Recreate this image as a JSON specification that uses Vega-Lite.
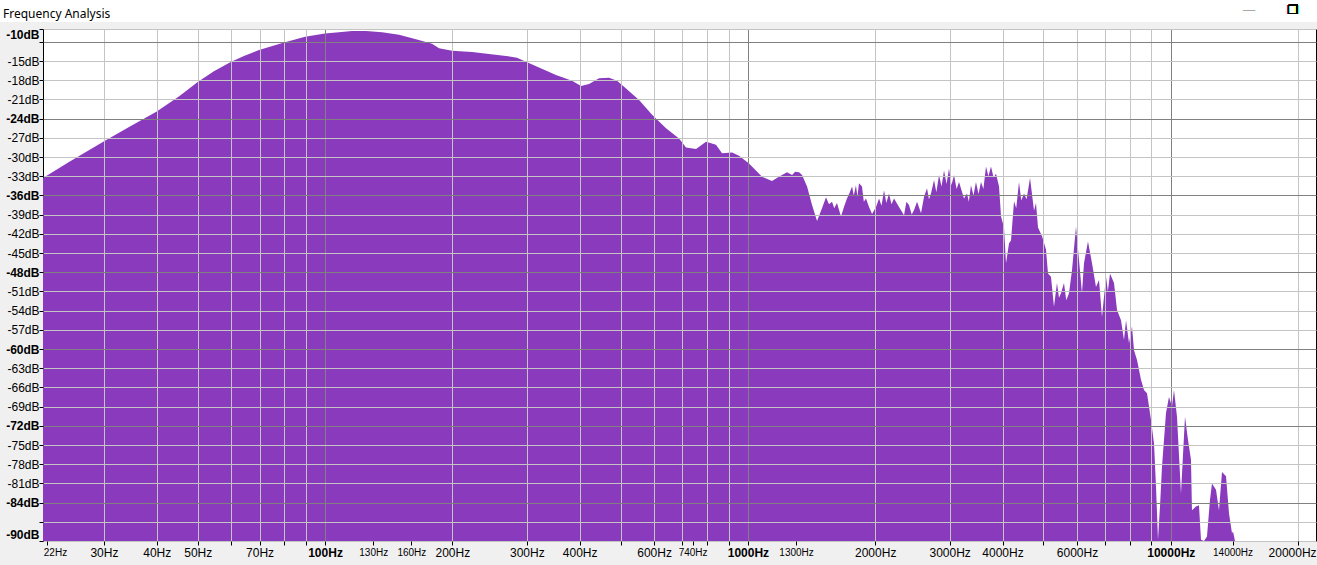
{
  "$schema": "https://vega.github.io/schema/vega-lite/v6.json",
  "description": "Audacity style frequency analysis spectrum, log frequency axis.",
  "width": 1273,
  "height": 512,
  "autosize": "none",
  "padding": {"left": 43, "top": 29, "right": 1, "bottom": 24},
  "background": "#f0f0f0",
  "title": {
    "text": "Frequency Analysis",
    "anchor": "start",
    "frame": "group",
    "dx": -40,
    "dy": 17,
    "offset": -13,
    "baseline": "alphabetic",
    "font": "Noto Sans",
    "fontSize": 12,
    "fontWeight": "normal",
    "color": "#000000"
  },
  "config": {
    "view": {"fill": "#ffffff", "stroke": "#000000", "strokeWidth": 1},
    "axis": {
      "labelFont": "Liberation Sans",
      "labelColor": "#000000",
      "tickColor": "#000000",
      "tickSize": 4,
      "domain": false,
      "title": null
    }
  },
  "data": {
    "values": [
      {"f": 21.53, "db": -33.3},
      {"f": 24.8, "db": -30.8},
      {"f": 30.1, "db": -27.5},
      {"f": 34.4, "db": -25.3},
      {"f": 40.0, "db": -22.9},
      {"f": 45.2, "db": -20.5},
      {"f": 50.0, "db": -18.3},
      {"f": 54.6, "db": -16.6},
      {"f": 60.0, "db": -15.1},
      {"f": 64.3, "db": -14.2},
      {"f": 69.8, "db": -13.3},
      {"f": 80.0, "db": -12.1},
      {"f": 89.7, "db": -11.2},
      {"f": 100, "db": -10.7},
      {"f": 107.9, "db": -10.5},
      {"f": 115.8, "db": -10.3},
      {"f": 125.0, "db": -10.3},
      {"f": 136.4, "db": -10.5},
      {"f": 149.6, "db": -10.9},
      {"f": 164.1, "db": -11.6},
      {"f": 179.1, "db": -12.3},
      {"f": 186.0, "db": -13.0},
      {"f": 199.7, "db": -13.4},
      {"f": 222.7, "db": -13.6},
      {"f": 244.3, "db": -13.9},
      {"f": 267.9, "db": -14.2},
      {"f": 284.4, "db": -14.5},
      {"f": 298.7, "db": -15.1},
      {"f": 320.6, "db": -16.0},
      {"f": 351.7, "db": -17.2},
      {"f": 383.7, "db": -18.1},
      {"f": 403.1, "db": -18.9},
      {"f": 421.1, "db": -18.6},
      {"f": 444.6, "db": -17.7},
      {"f": 469.4, "db": -17.6},
      {"f": 490.4, "db": -18.1},
      {"f": 515.0, "db": -19.3},
      {"f": 552.8, "db": -21.1},
      {"f": 593.4, "db": -23.4},
      {"f": 640.3, "db": -25.5},
      {"f": 687.3, "db": -27.1},
      {"f": 713.9, "db": -28.5},
      {"f": 753.9, "db": -28.75},
      {"f": 796.1, "db": -27.6},
      {"f": 840.5, "db": -28.1},
      {"f": 868.5, "db": -29.4},
      {"f": 917.3, "db": -29.3},
      {"f": 952.8, "db": -29.8},
      {"f": 1006, "db": -31.0},
      {"f": 1080, "db": -33.1},
      {"f": 1140, "db": -33.75},
      {"f": 1184, "db": -33.1},
      {"f": 1237, "db": -32.4},
      {"f": 1272, "db": -32.8},
      {"f": 1293, "db": -32.3},
      {"f": 1321, "db": -32.4},
      {"f": 1343, "db": -32.8},
      {"f": 1380, "db": -34.6},
      {"f": 1418, "db": -37.5},
      {"f": 1457, "db": -40.0},
      {"f": 1497, "db": -38.0},
      {"f": 1530, "db": -36.3},
      {"f": 1555, "db": -37.4},
      {"f": 1581, "db": -37.0},
      {"f": 1600, "db": -38.0},
      {"f": 1624, "db": -37.2},
      {"f": 1660, "db": -39.3},
      {"f": 1687, "db": -37.8},
      {"f": 1715, "db": -36.5},
      {"f": 1740, "db": -35.6},
      {"f": 1763, "db": -34.6},
      {"f": 1780, "db": -36.0},
      {"f": 1801, "db": -34.4},
      {"f": 1815, "db": -36.2},
      {"f": 1831, "db": -34.1},
      {"f": 1861, "db": -34.6},
      {"f": 1880, "db": -37.0},
      {"f": 1902, "db": -36.5},
      {"f": 1934, "db": -37.8},
      {"f": 1966, "db": -38.9},
      {"f": 2009, "db": -37.8},
      {"f": 2042, "db": -36.5},
      {"f": 2070, "db": -37.6},
      {"f": 2098, "db": -35.2},
      {"f": 2125, "db": -37.2},
      {"f": 2156, "db": -35.7},
      {"f": 2185, "db": -37.4},
      {"f": 2216, "db": -36.5},
      {"f": 2277, "db": -37.8},
      {"f": 2340, "db": -39.1},
      {"f": 2370, "db": -37.0},
      {"f": 2404, "db": -37.5},
      {"f": 2440, "db": -39.0},
      {"f": 2471, "db": -38.3},
      {"f": 2512, "db": -37.0},
      {"f": 2567, "db": -38.8},
      {"f": 2609, "db": -36.2},
      {"f": 2652, "db": -34.9},
      {"f": 2680, "db": -36.6},
      {"f": 2710, "db": -35.7},
      {"f": 2755, "db": -33.6},
      {"f": 2790, "db": -35.5},
      {"f": 2831, "db": -32.8},
      {"f": 2870, "db": -34.6},
      {"f": 2909, "db": -32.1},
      {"f": 2950, "db": -34.2},
      {"f": 2989, "db": -31.8},
      {"f": 3030, "db": -34.4},
      {"f": 3072, "db": -32.8},
      {"f": 3115, "db": -35.0},
      {"f": 3157, "db": -33.9},
      {"f": 3243, "db": -36.5},
      {"f": 3297, "db": -35.7},
      {"f": 3330, "db": -37.0},
      {"f": 3369, "db": -34.4},
      {"f": 3415, "db": -36.0},
      {"f": 3462, "db": -33.9},
      {"f": 3510, "db": -35.8},
      {"f": 3558, "db": -33.9},
      {"f": 3605, "db": -35.0},
      {"f": 3656, "db": -31.5},
      {"f": 3705, "db": -33.0},
      {"f": 3757, "db": -31.5},
      {"f": 3810, "db": -33.2},
      {"f": 3861, "db": -32.6},
      {"f": 3925, "db": -34.6},
      {"f": 3968, "db": -39.3},
      {"f": 4033, "db": -41.0},
      {"f": 4077, "db": -46.6},
      {"f": 4144, "db": -43.5},
      {"f": 4190, "db": -43.0},
      {"f": 4259, "db": -36.9},
      {"f": 4310, "db": -38.0},
      {"f": 4376, "db": -33.9},
      {"f": 4430, "db": -36.8},
      {"f": 4497, "db": -35.7},
      {"f": 4560, "db": -36.6},
      {"f": 4647, "db": -33.3},
      {"f": 4749, "db": -38.4},
      {"f": 4800, "db": -37.2},
      {"f": 4853, "db": -41.0},
      {"f": 4961, "db": -42.4},
      {"f": 5069, "db": -44.5},
      {"f": 5124, "db": -48.2},
      {"f": 5208, "db": -48.7},
      {"f": 5294, "db": -53.4},
      {"f": 5381, "db": -49.7},
      {"f": 5440, "db": -52.0},
      {"f": 5500, "db": -51.3},
      {"f": 5591, "db": -49.7},
      {"f": 5660, "db": -52.4},
      {"f": 5745, "db": -51.3},
      {"f": 5840, "db": -47.7},
      {"f": 5968, "db": -40.9},
      {"f": 6067, "db": -46.1},
      {"f": 6166, "db": -51.3},
      {"f": 6234, "db": -46.6},
      {"f": 6371, "db": -43.2},
      {"f": 6512, "db": -46.6},
      {"f": 6655, "db": -50.3},
      {"f": 6765, "db": -49.2},
      {"f": 6876, "db": -55.0},
      {"f": 7028, "db": -48.7},
      {"f": 7100, "db": -51.0},
      {"f": 7182, "db": -48.2},
      {"f": 7341, "db": -49.7},
      {"f": 7462, "db": -53.9},
      {"f": 7626, "db": -55.5},
      {"f": 7752, "db": -58.6},
      {"f": 7837, "db": -55.5},
      {"f": 7966, "db": -59.1},
      {"f": 8096, "db": -56.5},
      {"f": 8185, "db": -60.2},
      {"f": 8321, "db": -61.7},
      {"f": 8503, "db": -64.8},
      {"f": 8643, "db": -66.4},
      {"f": 8786, "db": -66.9},
      {"f": 8980, "db": -71.1},
      {"f": 9128, "db": -74.8},
      {"f": 9227, "db": -81.5},
      {"f": 9327, "db": -89.8},
      {"f": 9430, "db": -84.6},
      {"f": 9533, "db": -78.4},
      {"f": 9743, "db": -70.0},
      {"f": 9902, "db": -67.5},
      {"f": 10065, "db": -69.0},
      {"f": 10176, "db": -66.4},
      {"f": 10344, "db": -70.6},
      {"f": 10571, "db": -82.6},
      {"f": 10805, "db": -70.6},
      {"f": 10983, "db": -74.2},
      {"f": 11163, "db": -77.3},
      {"f": 11223, "db": -85.2},
      {"f": 11471, "db": -84.6},
      {"f": 11659, "db": -84.4},
      {"f": 11787, "db": -89.8},
      {"f": 11981, "db": -90},
      {"f": 12179, "db": -89.3},
      {"f": 12379, "db": -83.6},
      {"f": 12515, "db": -81.0},
      {"f": 12791, "db": -82.0},
      {"f": 13002, "db": -85.2},
      {"f": 13217, "db": -79.2},
      {"f": 13509, "db": -79.9},
      {"f": 13731, "db": -85.7},
      {"f": 13957, "db": -88.8},
      {"f": 14033, "db": -88.5},
      {"f": 14186, "db": -90},
      {"f": 22050, "db": -90}
    ]
  },
  "layer": [
    {
      "mark": {"type": "rect", "color": "#ffffff", "clip": false},
      "encoding": {
        "x": {"datum": 1, "type": "quantitative"},
        "x2": {"datum": 100000},
        "y": {"datum": -5.47, "type": "quantitative"},
        "y2": {"datum": -8.9}
      }
    },
    {
      "mark": {"type": "text", "clip": false, "color": "#a8a8a8", "font": "DejaVu Sans", "fontSize": 12, "baseline": "middle"},
      "encoding": {
        "x": {"datum": 15300, "type": "quantitative"},
        "y": {"datum": -7.0, "type": "quantitative"},
        "text": {"value": "—"}
      }
    },
    {
      "mark": {"type": "text", "clip": false, "color": "#000000", "font": "DejaVu Sans", "fontSize": 12, "baseline": "middle"},
      "encoding": {
        "x": {"datum": 19450, "type": "quantitative"},
        "y": {"datum": -7.0, "type": "quantitative"},
        "text": {"value": "❐"}
      }
    },
    {
      "mark": {"type": "area", "color": "#893abd", "interpolate": "linear"},
      "encoding": {
        "x": {
          "field": "f",
          "type": "quantitative",
          "scale": {"type": "log", "domain": [21.53, 22050], "nice": false, "clamp": false},
          "axis": {
            "orient": "bottom",
            "zindex": 1,
            "tickCount": 200,
            "labelOverlap": false,
            "values": [22, 30, 40, 50, 60, 70, 80, 90, 100, 130, 160, 200, 300, 400, 500, 600, 700, 740, 800, 900, 1000, 1300, 2000, 3000, 4000, 5000, 6000, 7000, 8000, 9000, 10000, 14000, 20000],
            "labelExpr": "indexof([60, 80, 90, 500, 700, 800, 900, 5000, 7000, 8000, 9000], datum.value) >= 0 ? '' : datum.value + 'Hz'",
            "labelFlush": false,
            "labelPadding": 2,
            "labelFontSize": {"expr": "indexof([22, 130, 160, 740, 1300, 14000], datum.value) >= 0 ? 10 : 12"},
            "labelFontWeight": {"expr": "indexof([100, 1000, 10000], datum.value) >= 0 ? 'bold' : 'normal'"},
            "labelOffset": {"expr": "datum.value == 22 ? 8 : datum.value == 20000 ? -6 : 0"},
            "grid": true,
            "gridColor": {"expr": "indexof([100, 1000, 10000], datum.value) >= 0 ? '#808080' : '#c4c4c4'"},
            "gridOpacity": {"expr": "indexof([22, 130, 160, 740, 1300, 14000], datum.value) >= 0 ? 0 : 1"}
          }
        },
        "y": {
          "field": "db",
          "type": "quantitative",
          "scale": {"domain": [-90, -10], "nice": false, "zero": false},
          "axis": {
            "orient": "left",
            "zindex": 1,
            "tickCount": 200,
            "labelOverlap": false,
            "values": [-10, -12, -15, -18, -21, -24, -27, -30, -33, -36, -39, -42, -45, -48, -51, -54, -57, -60, -63, -66, -69, -72, -75, -78, -81, -84, -87, -90],
            "labelExpr": "datum.value == -12 || datum.value == -87 ? '' : datum.value + 'dB'",
            "labelFontSize": 12,
            "labelPadding": 0,
            "labelFlush": true,
            "labelFlushOffset": 0,
            "labelFontWeight": {"expr": "datum.value % 12 == 0 || datum.value == -10 || datum.value == -90 ? 'bold' : 'normal'"},
            "grid": true,
            "gridColor": {"expr": "datum.value % 12 == 0 ? '#808080' : '#c4c4c4'"}
          }
        },
        "y2": {"datum": -90}
      }
    }
  ]
}
